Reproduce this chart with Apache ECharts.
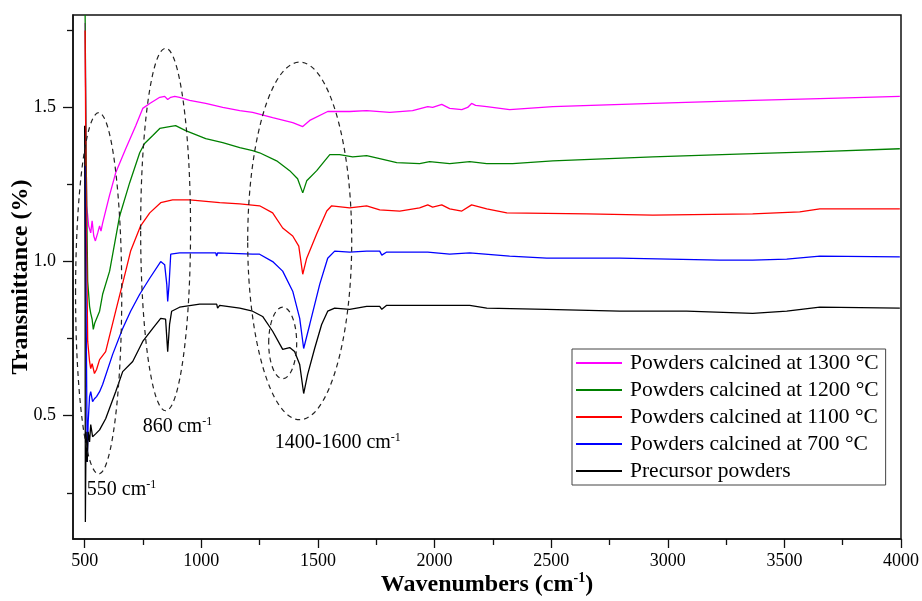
<!DOCTYPE html>
<html>
<head>
<meta charset="utf-8">
<script src="https://cdn.jsdelivr.net/npm/echarts@6/dist/echarts.min.js"></script>
<style>html,body{margin:0;padding:0;background:#fff}#c{width:922px;height:601px}</style>
</head>
<body>
<div id="c"></div>
<script>
// ---- data (wavenumber cm-1, transmittance) ----
const seriesNames = ['Powders calcined at 1300 °C','Powders calcined at 1200 °C','Powders calcined at 1100 °C','Powders calcined at 700 °C','Precursor powders'];
const s1300 = [[502,1.774],[506,1.36],[509,1.181],[517,1.116],[526,1.093],[532,1.132],[539,1.083],[546,1.067],[556,1.093],[564,1.116],[570,1.099],[577,1.125],[606,1.213],[633,1.288],[676,1.366],[719,1.441],[749,1.497],[779,1.513],[822,1.533],[843,1.536],[856,1.526],[869,1.533],[886,1.536],[907,1.533],[950,1.523],[1019,1.513],[1092,1.5],[1165,1.49],[1220,1.484],[1306,1.467],[1392,1.451],[1435,1.438],[1465,1.458],[1542,1.487],[1636,1.487],[1709,1.49],[1808,1.484],[1906,1.49],[1971,1.503],[1992,1.5],[2031,1.51],[2065,1.497],[2117,1.493],[2142,1.5],[2159,1.513],[2176,1.507],[2224,1.503],[2322,1.493],[2507,1.503],[2936,1.513],[3364,1.523],[3652,1.529],[3995,1.536]];
const s1200 = [[502,1.8],[506,1.36],[513,0.936],[521,0.855],[526,0.832],[532,0.813],[537,0.78],[543,0.8],[551,0.806],[564,0.839],[577,0.894],[607,0.969],[650,1.148],[693,1.256],[736,1.353],[757,1.383],[792,1.409],[822,1.432],[864,1.438],[890,1.441],[933,1.425],[1019,1.399],[1092,1.386],[1165,1.37],[1220,1.36],[1250,1.353],[1323,1.327],[1379,1.295],[1413,1.269],[1435,1.223],[1452,1.262],[1495,1.295],[1529,1.327],[1551,1.347],[1593,1.347],[1649,1.34],[1709,1.344],[1765,1.334],[1838,1.321],[1936,1.318],[1979,1.324],[2065,1.318],[2151,1.324],[2224,1.318],[2335,1.318],[2507,1.327],[2936,1.34],[3364,1.35],[3652,1.357],[3995,1.366]];
const s1100 = [[502,1.75],[506,1.197],[513,0.741],[521,0.676],[526,0.653],[532,0.669],[542,0.637],[551,0.65],[564,0.682],[590,0.708],[633,0.839],[676,0.969],[697,1.034],[740,1.116],[779,1.158],[826,1.191],[877,1.2],[950,1.2],[1079,1.191],[1165,1.187],[1250,1.181],[1306,1.158],[1349,1.109],[1392,1.083],[1418,1.05],[1435,0.959],[1452,1.011],[1495,1.09],[1538,1.164],[1559,1.181],[1636,1.174],[1709,1.181],[1765,1.168],[1851,1.164],[1936,1.174],[1971,1.184],[1992,1.177],[2031,1.184],[2065,1.171],[2117,1.164],[2159,1.184],[2224,1.171],[2310,1.158],[2653,1.155],[2936,1.151],[3364,1.155],[3566,1.161],[3652,1.171],[3995,1.171]];
const s700 = [[502,1.311],[506,0.871],[511,0.35],[515,0.48],[521,0.562],[526,0.578],[534,0.546],[542,0.555],[551,0.562],[564,0.578],[577,0.601],[620,0.699],[663,0.783],[697,0.839],[736,0.894],[779,0.946],[826,1.0],[843,0.99],[852,0.927],[856,0.871],[862,0.927],[869,1.024],[907,1.028],[950,1.028],[1062,1.028],[1066,1.018],[1070,1.028],[1220,1.024],[1250,1.024],[1306,1.0],[1349,0.969],[1392,0.904],[1422,0.816],[1439,0.718],[1465,0.796],[1508,0.927],[1542,1.011],[1572,1.034],[1636,1.031],[1709,1.034],[1765,1.034],[1774,1.021],[1795,1.031],[1971,1.031],[2065,1.024],[2151,1.028],[2322,1.018],[2481,1.011],[2794,1.011],[3223,1.005],[3364,1.005],[3510,1.008],[3652,1.018],[3995,1.015]];
const sPre = [[500,1.441],[502,0.871],[503,0.155],[506,0.448],[511,0.35],[515,0.448],[521,0.415],[526,0.471],[534,0.432],[547,0.441],[564,0.454],[590,0.49],[633,0.578],[663,0.643],[706,0.676],[749,0.741],[792,0.783],[826,0.816],[847,0.813],[856,0.708],[864,0.796],[873,0.839],[907,0.852],[993,0.862],[1066,0.862],[1070,0.849],[1079,0.858],[1165,0.849],[1220,0.839],[1263,0.822],[1306,0.774],[1349,0.715],[1379,0.721],[1400,0.708],[1422,0.666],[1439,0.572],[1456,0.634],[1486,0.718],[1516,0.796],[1542,0.839],[1572,0.849],[1636,0.845],[1709,0.855],[1765,0.855],[1774,0.845],[1795,0.858],[1971,0.858],[2151,0.858],[2224,0.849],[2481,0.845],[2794,0.839],[3081,0.839],[3364,0.832],[3510,0.839],[3652,0.852],[3995,0.849]];
const seriesColors = ['#ff00ff','#008000','#ff0000','#0000ff','#000000'];
// ticks
const xMajorTicks = [500,1000,1500,2000,2500,3000,3500,4000];
const xMinorTicks = [750,1250,1750,2250,2750,3250,3750];
const yMajorTicks = [0.5,1.0,1.5];
const yMinorTicks = [0.25,0.75,1.25,1.75];
// annotations: dashed ellipses [centre wn, centre T, half-width wn, half-height T]
const ellipses = [[560,0.897,99,0.586],[847,1.104,107,0.588],[1422,1.067,223,0.58],[1349,0.736,60,0.116]];
// annotation labels [wn, T, band]
const bandLabels = [[509,0.259,'550'],[749,0.464,'860'],[1315,0.412,'1400-1600']];

const FONT = 'Liberation Serif';
const chart = echarts.init(document.getElementById('c'), null, {renderer:'canvas'});

const lineSeries = [s1300,s1200,s1100,s700,sPre].map((d,i)=>({
  name: seriesNames[i], type:'line', data:d, showSymbol:false, symbol:'none',
  lineStyle:{color:seriesColors[i], width:1.3}, itemStyle:{color:seriesColors[i]},
  z: 3, animation:false
}));

const option = {
  animation:false,
  backgroundColor:'#fff',
  grid:{left:73, top:15, right:21, bottom:62, outerBoundsMode:'none', containLabel:false,
        show:true, borderColor:'#111', borderWidth:1.5},
  legend:{
    data: seriesNames, orient:'vertical', left:572, top:349,
    borderColor:'#444', borderWidth:1, padding:[3,7,3,4],
    itemWidth:46, itemHeight:10, itemGap:5,
    textStyle:{fontFamily:FONT, fontSize:21.5, color:'#000', padding:[0,0,0,3]},
    icon: 'path://M0,0L46,0L46,2L0,2Z'
  },
  xAxis:[{
    type:'value', min:450, max:4000, position:'bottom',
    name:'{a|Wavenumbers (cm}{s|-1}{a|)}', nameLocation:'middle', nameGap:32, nameMoveOverlap:false,
    nameTextStyle:{rich:{a:{fontFamily:FONT, fontWeight:'bold', fontSize:24, color:'#000', lineHeight:28},
                         s:{fontFamily:FONT, fontWeight:'bold', fontSize:14, color:'#000', verticalAlign:'top', lineHeight:14}}},
    axisLine:{show:true, lineStyle:{color:'#111', width:1.5}},
    axisTick:{show:true, length:9, lineStyle:{color:'#111', width:1.3}, customValues:xMajorTicks},
    axisLabel:{show:true, customValues:xMajorTicks, fontFamily:FONT, fontSize:18, color:'#000', margin:13,
               formatter:v=>String(v)},
    splitLine:{show:false}
  },{
    type:'value', min:450, max:4000, position:'bottom',
    axisLine:{show:false}, axisLabel:{show:false}, splitLine:{show:false},
    axisTick:{show:true, length:6, lineStyle:{color:'#111', width:1.3}, customValues:xMinorTicks}
  }],
  yAxis:[{
    type:'value', min:0.1, max:1.8, position:'left',
    name:'Transmittance (%)', nameLocation:'middle', nameGap:40, nameRotate:90, nameMoveOverlap:false,
    nameTextStyle:{fontFamily:FONT, fontWeight:'bold', fontSize:24, color:'#000'},
    axisLine:{show:true, lineStyle:{color:'#111', width:1.5}},
    axisTick:{show:true, length:10, lineStyle:{color:'#111', width:1.3}, customValues:yMajorTicks},
    axisLabel:{show:true, customValues:yMajorTicks, fontFamily:FONT, fontSize:18, color:'#000', margin:17,
               formatter:v=>v.toFixed(1)},
    splitLine:{show:false}
  },{
    type:'value', min:0.1, max:1.8, position:'left',
    axisLine:{show:false}, axisLabel:{show:false}, splitLine:{show:false},
    axisTick:{show:true, length:6, lineStyle:{color:'#111', width:1.3}, customValues:yMinorTicks}
  }],
  series:[
    ...lineSeries,
    {
      type:'custom', name:'ellipses', silent:true, z:4, clip:false,
      data: ellipses,
      encode:{x:0, y:1},
      renderItem:(params, api)=>{
        const c = api.coord([api.value(0), api.value(1)]);
        const s = api.size([api.value(2), api.value(3)]);
        return {type:'ellipse', shape:{cx:c[0], cy:c[1], rx:s[0], ry:s[1]},
                style:{fill:'none', stroke:'#222', lineWidth:1.2, lineDash:[5,4]}};
      }
    },
    {
      type:'custom', name:'labels', silent:true, z:5, clip:false,
      data: bandLabels,
      encode:{x:0, y:1},
      renderItem:(params, api)=>{
        const b = bandLabels[params.dataIndex];
        const c = api.coord([b[0], b[1]]);
        return {type:'text', x:c[0], y:c[1],
          style:{text:'{a|'+b[2]+' cm}{s|-1}', align:'left', verticalAlign:'middle', fill:'#000',
            rich:{a:{fontFamily:FONT, fontSize:20, fill:'#000', color:'#000', lineHeight:22},
                  s:{fontFamily:FONT, fontSize:12, fill:'#000', color:'#000', verticalAlign:'top', lineHeight:12}}}};
      }
    }
  ]
};
chart.setOption(option);
</script>
</body>
</html>
